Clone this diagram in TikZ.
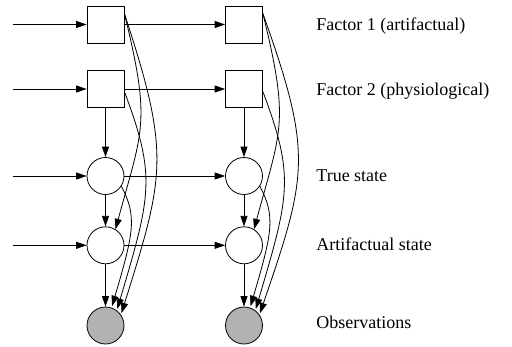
\documentclass[tikz,border=0pt]{standalone}
\usepackage{fontspec}
\setmainfont{Liberation Serif}
\usepackage{tikz}
\usetikzlibrary{arrows.meta}
\tikzset{>={Triangle[length=10.5pt,width=7pt]}}
\tikzset{fac/.style={draw, minimum size=37pt, inner sep=0pt},
         st/.style={draw, circle, minimum size=37pt, inner sep=0pt},
         obsv/.style={st, fill=black!30},
         lab/.style={anchor=base west, inner sep=0pt, font=\fontsize{18}{20}\selectfont}}

\begin{document}
\begin{tikzpicture}[x=1pt, y=1pt, line width=0.8pt]
                        \useasboundingbox (0,0) rectangle (512,-346);
                        % first slice
                        \node[fac] (fa1) at (105.5,-24.5) {};
                        \node[fac] (fb1) at (105.5,-89) {};
                        \node[st] (ts1) at (105.5,-176) {};
                        \node[st] (as1) at (105.5,-245.3) {};
                        \node[obsv] (ob1) at (105.5,-325.5) {};
                        % second slice
                        \node[fac] (fa2) at (244,-24.5) {};
                        \node[fac] (fb2) at (244,-89) {};
                        \node[st] (ts2) at (244,-176) {};
                        \node[st] (as2) at (244,-245.3) {};
                        \node[obsv] (ob2) at (244,-325.5) {};
                        % incoming ends
                        \coordinate (in1) at (13,-24.5);
                        \coordinate (in2) at (13,-89);
                        \coordinate (in3) at (13,-176);
                        \coordinate (in4) at (13,-245.3);
                        % labels
                        \node[lab] (l1) at (316,-30) {Factor 1 (artifactual)};
                        \node[lab] (l2) at (316,-95) {Factor 2 (physiological)};
                        \node[lab] (l3) at (316,-181) {True state};
                        \node[lab] (l4) at (316,-250) {Artifactual state};
                        \node[lab] (l5) at (316,-328) {Observations};

                        % in to first slice
                        \draw[->] (in1) -- (fa1);
                        \draw[->] (in2) -- (fb1);
                        \draw[->] (in3) -- (ts1);
                        \draw[->] (in4) -- (as1);
                        % first to second slice
                        \draw[->] (fa1) -- (fa2);
                        \draw[->] (fb1) -- (fb2);
                        \draw[->] (ts1) -- (ts2);
                        \draw[->] (as1) -- (as2);

                        % fb to ts to as to ob
                        \draw[->] (fb1) -- (ts1);
                        \draw[->] (ts1) -- (as1);
                        \draw[->] (as1) -- (ob1);
                        \draw[->] (fb2) -- (ts2);
                        \draw[->] (ts2) -- (as2);
                        \draw[->] (as2) -- (ob2);

                        % fa to as
                        \draw[->] (fa1.30) .. controls +(27,-110) and +(27,100) .. (as1.58);
                        \draw[->] (fa2.30) .. controls +(27,-110) and +(27,100) .. (as2.58);
                        % fa to ob
                        \draw[->, shorten >=1.5pt] (fa1.30) .. controls +(46,-140) and +(44,140) .. (ob1.35);
                        \draw[->, shorten >=1.5pt] (fa2.30) .. controls +(50,-140) and +(48,140) .. (ob2.35);
                        % fb to ob
                        \draw[->, shorten >=1.5pt] (fb1.-8) .. controls +(32,-85) and +(34,115) .. (ob1.53);
                        \draw[->, shorten >=1.5pt] (fb2.-8) .. controls +(32,-85) and +(34,115) .. (ob2.53);
                        % ts to ob
                        \draw[->, shorten >=1.5pt] (ts1.-33) .. controls +(16,-30) and +(22,75) .. (ob1.71);
                        \draw[->, shorten >=1.5pt] (ts2.-33) .. controls +(16,-30) and +(22,75) .. (ob2.71);
                    \end{tikzpicture}
\end{document}
